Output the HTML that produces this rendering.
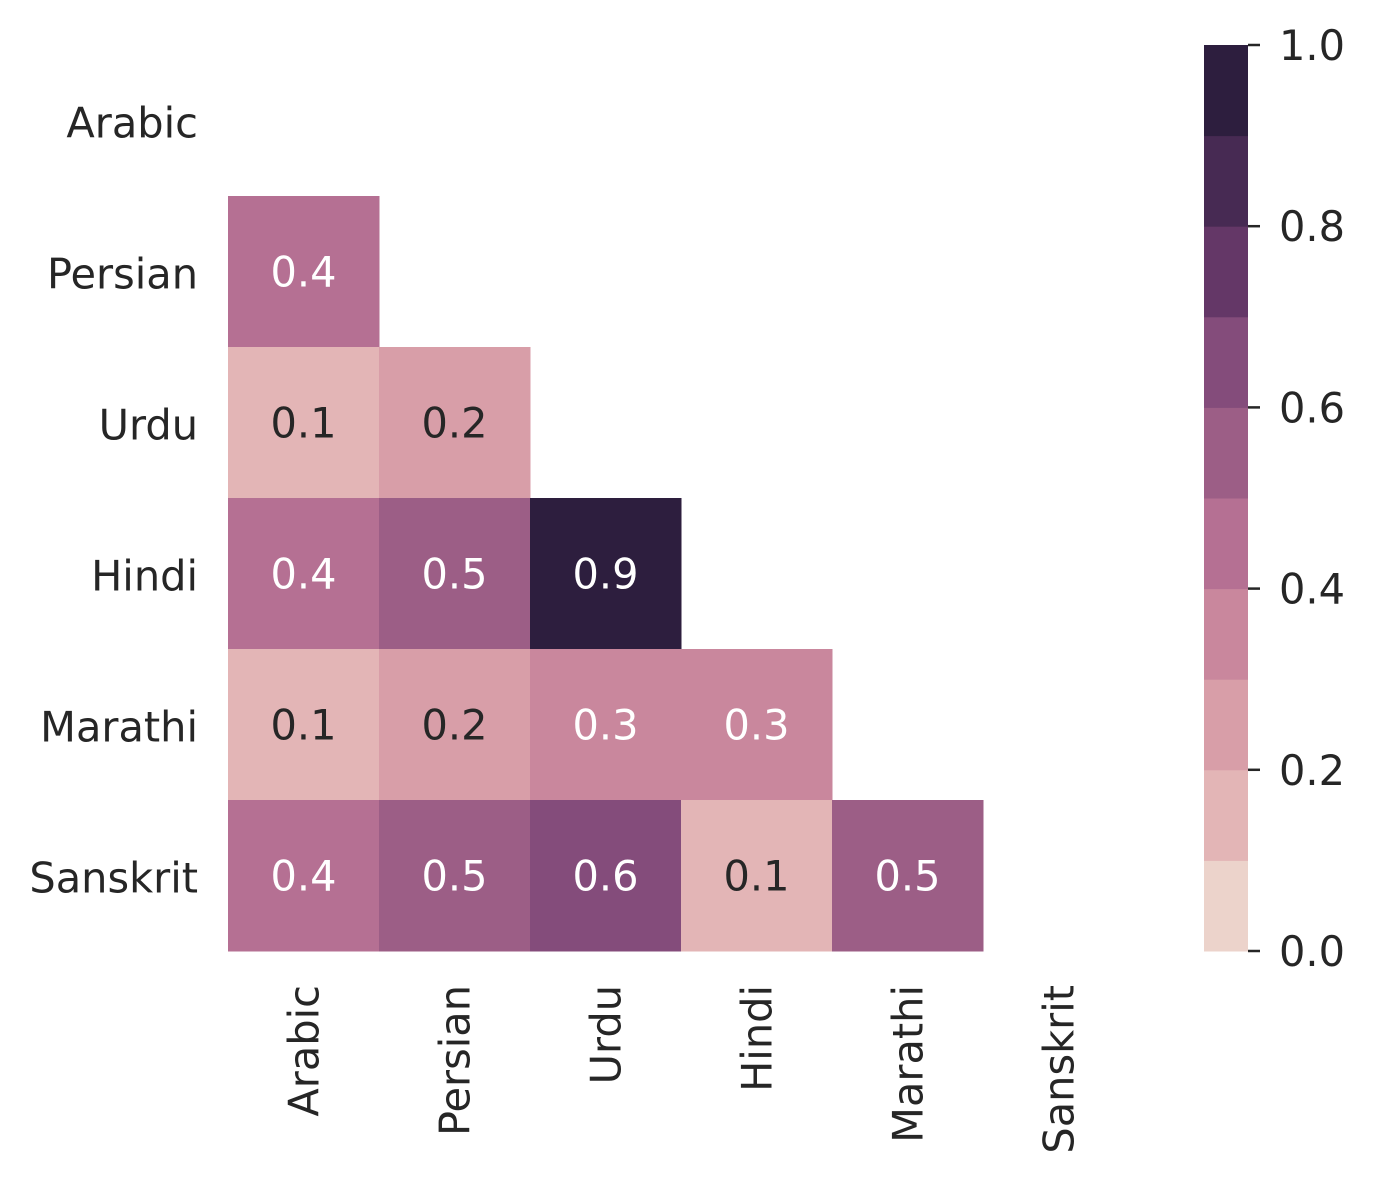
<!DOCTYPE html>
<html><head><meta charset="utf-8"><style>
html,body{margin:0;padding:0;background:#fff;}
svg text{font-family:"DejaVu Sans","Liberation Sans",sans-serif;}
</style></head><body>
<svg id="chart" width="1375" height="1180" xmlns="http://www.w3.org/2000/svg"></svg>
<script>
const langs = ["Arabic","Persian","Urdu","Hindi","Marathi","Sanskrit"];
// lower-triangle values [row][col]
const row1 = [0.42];
const row2 = [0.12, 0.22];
const row3 = [0.42, 0.52, 0.92];
const row4 = [0.12, 0.22, 0.32, 0.32];
const row5 = [0.42, 0.52, 0.62, 0.12, 0.52];
const rows = [[], row1, row2, row3, row4, row5];
const palette = ["#ecd3cb","#e3b5b6","#d89ea8","#c9879d","#b57093","#9c5e86","#844c7b","#643767","#472a53","#2d1e3e"];
const cbTicks = [0.0,0.2,0.4,0.6,0.8,1.0];

const NS="http://www.w3.org/2000/svg";
const svg=document.getElementById('chart');
const x0=228, y0=45, cell=151;
const FS=41.5, OFF=17;
const xPos=i=>x0+i*cell, yPos=i=>y0+i*cell;
const cbTop=45, cbBot=951, cbX=1204, cbW=44;
const cbY=v=>cbBot-(cbBot-cbTop)*v;
function colorOf(v){return palette[Math.min(9,Math.max(0,Math.floor(v*10+1e-9)))];}
function mk(tag,attrs,text){const e=document.createElementNS(NS,tag);for(const k in attrs)e.setAttribute(k,attrs[k]);if(text!==undefined)e.textContent=text;svg.appendChild(e);return e;}

rows.forEach((r,ri)=>{r.forEach((v,ci)=>{
  const c=mk('rect',{x:xPos(ci),y:yPos(ri),width:cell+0.5,height:cell+0.5,fill:colorOf(v)});
  
  
  const bin=Math.floor(v*10+1e-9);
  const t=mk('text',{x:xPos(ci)+cell/2,y:yPos(ri)+cell/2+OFF-2,'text-anchor':'middle','font-size':FS,fill:bin>=3?'#ffffff':'#262626'},v.toFixed(1));
  
  
});});

langs.forEach((l,i)=>{
  const t=mk('text',{x:198,y:yPos(i)+cell/2+OFF,'text-anchor':'end','font-size':FS,fill:'#262626'},l);
  
  
  const cx=xPos(i)+cell/2+15;
  const u=mk('text',{x:0,y:0,'text-anchor':'end','font-size':FS,fill:'#262626',transform:`translate(${cx},985) rotate(-90)`},l);
  
  
});

palette.forEach((c,i)=>{
  const r=mk('rect',{x:cbX,y:cbY((i+1)/10),width:cbW,height:cbY(i/10)-cbY((i+1)/10)+0.5,fill:c});
  
  
});
cbTicks.forEach(v=>{
  const l=mk('line',{x1:cbX+cbW,x2:cbX+cbW+12,y1:cbY(v),y2:cbY(v),stroke:'#262626','stroke-width':2.5});
  
  
  const t=mk('text',{x:1279,y:cbY(v)+15,'font-size':FS,fill:'#262626'},v.toFixed(1));
  
  
});
</script>
</body></html>
